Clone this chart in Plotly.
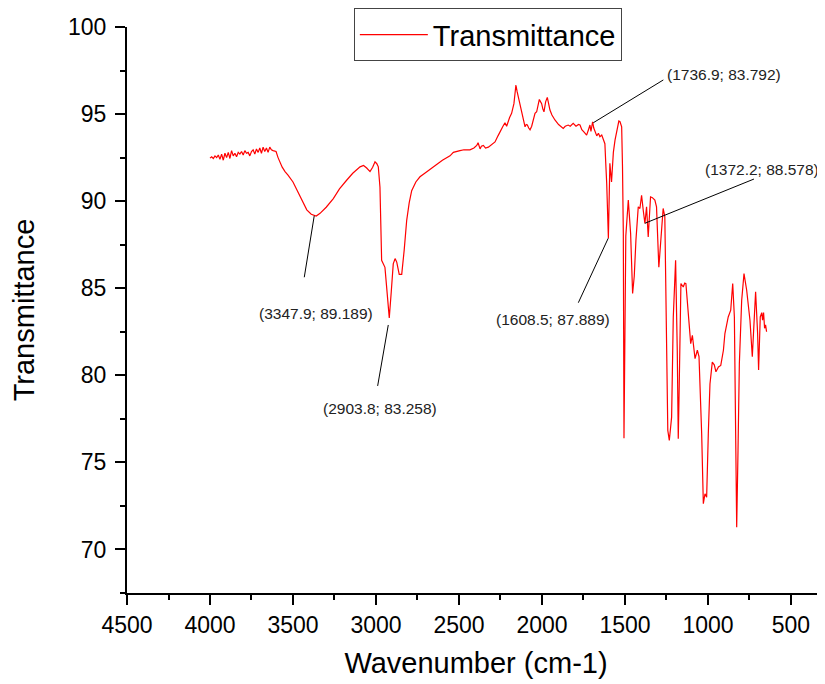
import plotly.graph_objects as go

# ---- data ----
wavenumber = [
    4000, 3990, 3980, 3970, 3960, 3950, 3940, 3930, 3920, 3910, 3900, 3890, 3880, 3870, 3860,
    3850, 3840, 3830, 3820, 3810, 3800, 3790, 3780, 3770, 3760, 3750, 3740, 3730, 3720, 3710,
    3700, 3690, 3680, 3670, 3660, 3650, 3640, 3630, 3620, 3602, 3590, 3578, 3565, 3548, 3530,
    3500, 3475, 3448, 3417, 3390, 3360, 3337, 3300, 3257, 3220, 3177, 3140, 3096, 3075, 3056,
    3036, 3020, 3006, 2995, 2986, 2976, 2966, 2946, 2935, 2920, 2908, 2896, 2885, 2875, 2860,
    2845, 2830, 2815, 2800, 2785, 2760, 2735, 2700, 2655, 2600, 2554, 2534, 2494, 2470, 2434,
    2410, 2393, 2385, 2373, 2365, 2353, 2340, 2323, 2300, 2283, 2265, 2253, 2235, 2223, 2213,
    2195, 2183, 2169, 2157, 2150, 2143, 2132, 2122, 2110, 2102, 2095, 2088, 2080, 2072, 2062,
    2052, 2042, 2032, 2024, 2016, 2008, 2002, 1995, 1988, 1978, 1968, 1960, 1952, 1940, 1922,
    1900, 1885, 1872, 1860, 1842, 1830, 1812, 1795, 1780, 1771, 1760, 1745, 1731, 1720, 1711,
    1705, 1695, 1688, 1681, 1670, 1660, 1651, 1640, 1631, 1621, 1615, 1610, 1600, 1591, 1581,
    1570, 1560, 1546, 1537, 1530, 1520, 1515, 1510, 1506, 1502, 1495, 1480, 1466, 1454, 1444,
    1434, 1420, 1410, 1400, 1390, 1380, 1370, 1360, 1346, 1335, 1320, 1310, 1296, 1283, 1270,
    1260, 1250, 1242, 1233, 1219, 1209, 1195, 1185, 1179, 1173, 1163, 1149, 1140, 1133, 1119,
    1104, 1094, 1078, 1064, 1054, 1038, 1028, 1018, 1008, 998, 988, 974, 962, 952, 937,
    923, 907, 898, 878, 863, 851, 841, 833, 827, 819, 811, 797, 783, 767, 747,
    733, 723, 713, 701, 695, 685, 676, 671, 665, 659, 653, 647,
]
transmittance = [
    92.47, 92.55, 92.45, 92.60, 92.50, 92.65, 92.40, 92.70, 92.35, 92.75, 92.50, 92.80, 92.45, 92.90, 92.60,
    92.75, 92.55, 92.80, 92.70, 92.85, 92.65, 92.90, 92.75, 92.80, 92.60, 92.85, 92.95, 92.70, 93.00, 92.80,
    93.05, 92.75, 93.10, 92.85, 93.05, 92.80, 93.10, 92.95, 92.90, 92.85, 92.50, 92.20, 91.95, 91.70, 91.50,
    91.10, 90.60, 90.06, 89.50, 89.25, 89.15, 89.30, 89.65, 90.15, 90.70, 91.20, 91.60, 91.97, 92.05, 91.90,
    91.70, 91.95, 92.26, 92.15, 91.97, 90.80, 86.60, 86.20, 85.00, 83.30, 84.80, 86.40, 86.70, 86.50, 85.80,
    85.80, 87.20, 88.90, 89.90, 90.60, 91.10, 91.40, 91.65, 91.97, 92.35, 92.60, 92.80, 92.90, 92.95, 92.95,
    93.05, 93.20, 93.35, 93.00, 93.15, 93.20, 93.05, 93.10, 93.30, 93.40, 93.75, 94.00, 94.30, 94.50, 94.30,
    94.80, 95.04, 95.60, 96.67, 96.30, 96.00, 95.60, 95.30, 94.60, 94.27, 94.40, 94.37, 94.20, 94.10, 94.30,
    94.70, 95.04, 95.13, 95.60, 95.84, 95.70, 95.60, 95.30, 95.13, 95.70, 95.96, 95.60, 95.23, 94.95, 94.66,
    94.40, 94.30, 94.18, 94.30, 94.37, 94.30, 94.47, 94.30, 94.40, 94.37, 94.10, 93.95, 93.79, 94.10, 94.37,
    94.00, 94.56, 94.20, 93.98, 93.75, 93.90, 93.70, 93.80, 93.50, 93.30, 92.00, 91.00, 87.87, 92.17, 91.10,
    92.80, 93.50, 94.27, 94.60, 94.56, 94.27, 92.00, 88.14, 76.38, 82.00, 88.00, 90.06, 88.14, 84.70, 85.70,
    87.76, 89.67, 89.58, 90.34, 89.48, 88.72, 89.67, 87.95, 90.25, 90.20, 90.06, 89.67, 86.20, 87.76, 89.58,
    89.10, 82.40, 76.84, 76.26, 77.60, 83.35, 86.60, 81.40, 76.36, 79.50, 85.27, 85.07, 85.30, 85.27, 83.74,
    81.82, 82.30, 80.96, 81.44, 81.07, 76.65, 72.63, 73.20, 73.00, 76.65, 79.50, 80.76, 80.60, 80.20, 80.48,
    80.57, 81.44, 82.40, 83.35, 83.74, 85.27, 83.35, 75.70, 71.28, 75.70, 80.66, 84.30, 85.84, 84.90, 83.16,
    81.07, 83.35, 84.80, 82.40, 80.30, 83.35, 83.60, 83.16, 83.60, 82.70, 82.90, 82.50,
]

# peak labels: text, point on curve (x, y), leader end (x, y), label centre (x, y)
peak_labels = ["(3347.9; 89.189)", "(2903.8; 83.258)", "(1608.5; 87.889)",
               "(1372.2; 88.578)", "(1736.9; 83.792)"]
peak_points = [(3372, 89.16), (2926, 82.89), (1601, 87.87), (1380, 88.73), (1691, 94.50)]
leader_ends = [(3432, 85.63), (2990, 79.39), (1781, 84.17), (723, 91.27), (1269, 96.96)]
label_centres = [(3361, 83.56), (2976, 78.11), (1932, 83.18), (673, 91.79), (904, 97.30)]

x_ticks = [4500, 4000, 3500, 3000, 2500, 2000, 1500, 1000, 500]
y_ticks = [70, 75, 80, 85, 90, 95, 100]

FONT = "Arial, Liberation Sans, sans-serif"

fig = go.Figure()
fig.add_trace(go.Scatter(
    x=wavenumber, y=transmittance, mode="lines", name="Transmittance",
    line=dict(color="#FF0000", width=1.2),
))

for txt, p, e, c in zip(peak_labels, peak_points, leader_ends, label_centres):
    fig.add_shape(type="line", x0=p[0], y0=p[1], x1=e[0], y1=e[1],
                  xref="x", yref="y", line=dict(color="black", width=1))
    fig.add_annotation(x=c[0], y=c[1], text=txt, showarrow=False,
                       xref="x", yref="y", xanchor="center", yanchor="middle",
                       font=dict(family=FONT, size=15.5, color="#222"))

# the page body adds an 8px offset, so the figure is 8px smaller and margins shifted
fig.update_layout(
    width=817, height=676,
    margin=dict(l=119, r=0, t=19, b=91, autoexpand=False),
    paper_bgcolor="white", plot_bgcolor="white",
    font=dict(family=FONT, color="black"),
    showlegend=True,
    legend=dict(x=0.325, y=1.033, xanchor="left", yanchor="top",
                bgcolor="white", bordercolor="#444", borderwidth=1,
                font=dict(family=FONT, size=29, color="black"),
                itemwidth=68),
)
fig.update_xaxes(
    range=[4500, 295], tickvals=x_ticks, ticks="outside", ticklen=10, tickwidth=2,
    tickcolor="black", showline=True, linewidth=2, linecolor="black",
    showgrid=False, zeroline=False, tickfont=dict(family=FONT, size=23),
    minor=dict(tickvals=[4250, 3750, 3250, 2750, 2250, 1750, 1250, 750, 250],
               ticks="outside", ticklen=5, tickwidth=2, tickcolor="black", showgrid=False),
    title=dict(text="Wavenumber (cm-1)", font=dict(family=FONT, size=29), standoff=16),
    automargin=False,
)
fig.update_yaxes(
    range=[67.5, 100], tickvals=y_ticks, ticks="outside", ticklen=10, tickwidth=2,
    tickcolor="black", showline=True, linewidth=2, linecolor="black",
    showgrid=False, zeroline=False, tickfont=dict(family=FONT, size=23),
    ticklabelstandoff=4,
    minor=dict(tickvals=[67.5, 72.5, 77.5, 82.5, 87.5, 92.5, 97.5],
               ticks="outside", ticklen=5, tickwidth=2, tickcolor="black", showgrid=False),
    title=dict(text="Transmittance", font=dict(family=FONT, size=29), standoff=28),
    automargin=False,
)

fig.write_html("out.html")
